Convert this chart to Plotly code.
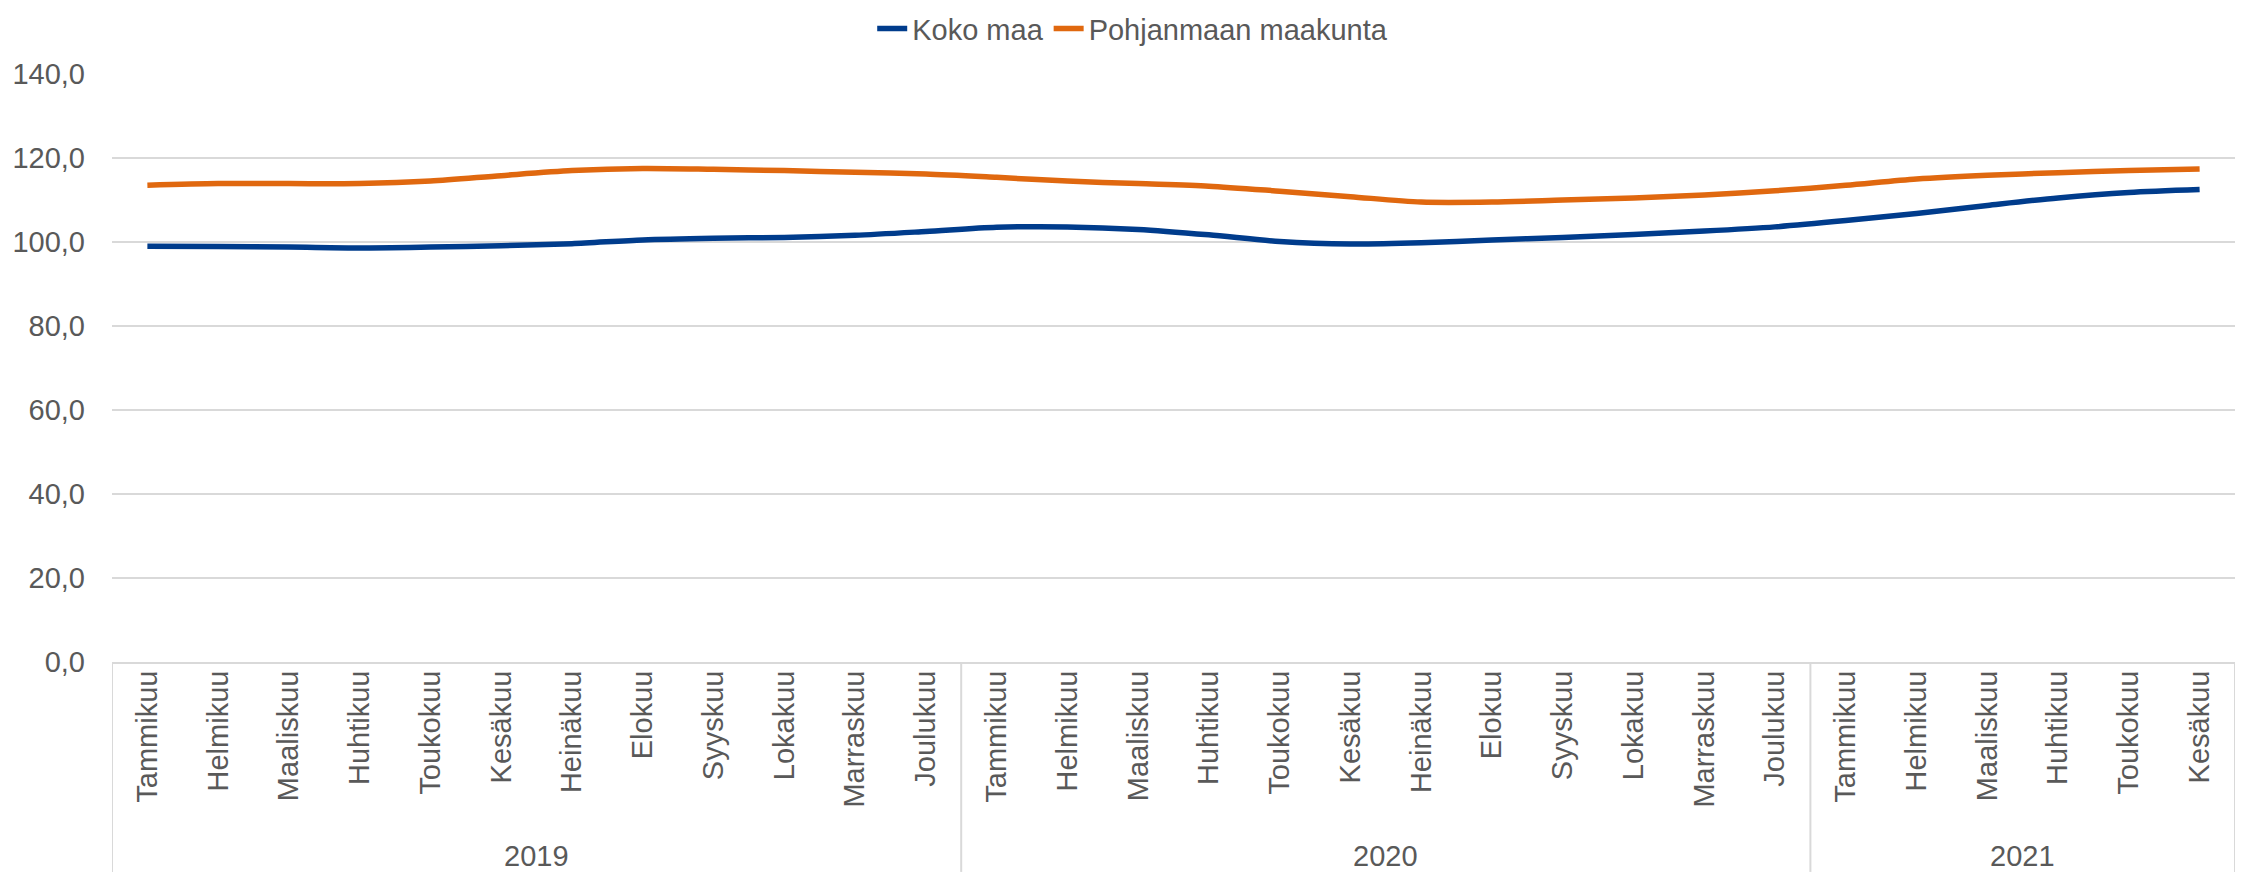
import plotly.graph_objects as go

months = ["Tammikuu", "Helmikuu", "Maaliskuu", "Huhtikuu", "Toukokuu", "Kesäkuu",
          "Heinäkuu", "Elokuu", "Syyskuu", "Lokakuu", "Marraskuu", "Joulukuu"]
years = ["2019", "2020", "2021"]
months_per_year = [12, 12, 6]

categories = []
for y, n in zip(years, months_per_year):
    categories += months[:n]

koko_maa = [99.0, 98.9, 98.8, 98.6, 98.8, 99.1, 99.6, 100.5, 100.9, 101.1, 101.6, 102.5,
            103.5, 103.6, 103.0, 101.7, 100.1, 99.5, 99.8, 100.5, 101.1, 101.8, 102.6, 103.6,
            105.1, 106.8, 108.7, 110.5, 111.8, 112.5]
pohjanmaa = [113.5, 113.9, 113.9, 113.9, 114.5, 115.8, 117.0, 117.5, 117.3, 117.0, 116.6, 116.2,
             115.4, 114.5, 113.9, 113.3, 112.1, 110.8, 109.5, 109.5, 110.0, 110.5, 111.2, 112.2,
             113.5, 115.0, 115.9, 116.5, 117.0, 117.4]

y_ticks = [0, 20, 40, 60, 80, 100, 120, 140]

FONT = "Liberation Sans, Arial, sans-serif"
GREY = "#595959"
GRID = "#D9D9D9"

xs = list(range(len(categories)))

fig = go.Figure()
fig.add_trace(go.Scatter(x=xs, y=koko_maa, name="Koko maa", mode="lines",
                         line=dict(color="#003C8C", width=5.5, shape="spline", smoothing=0.8)))
fig.add_trace(go.Scatter(x=xs, y=pohjanmaa, name="Pohjanmaan maakunta", mode="lines",
                         line=dict(color="#E0680F", width=5.5, shape="spline", smoothing=0.8)))

# group separators and year labels
shapes = []
annotations = []
start = 0
bounds = [-0.5]
for y, n in zip(years, months_per_year):
    end = start + n
    bounds.append(end - 0.5)
    annotations.append(dict(x=(start + end - 1) / 2, y=-0.33, xref="x", yref="paper",
                            text=y, showarrow=False, font=dict(size=29, color=GREY, family=FONT),
                            yanchor="middle"))
    start = end
for b in bounds:
    shapes.append(dict(type="line", xref="x", yref="paper", x0=b, x1=b, y0=0, y1=-0.357,
                       line=dict(color=GRID, width=2), layer="above"))

fig.update_layout(
    width=2236, height=864,
    margin=dict(l=104, r=9, t=66, b=210, autoexpand=False),
    paper_bgcolor="white", plot_bgcolor="white",
    separators=", ",
    font=dict(family=FONT, size=29, color=GREY),
    showlegend=True,
    legend=dict(orientation="h", xref="container", yref="container", x=0.503, xanchor="center",
                y=0.976, yanchor="middle",
                font=dict(size=29, color=GREY, family=FONT), bgcolor="rgba(0,0,0,0)"),
    shapes=shapes,
    annotations=annotations,
    xaxis=dict(range=[-0.5, len(categories) - 0.5], tickmode="array", tickvals=xs,
               ticktext=categories, tickangle=-90, showgrid=False, zeroline=False,
               showline=True, linecolor=GRID, linewidth=2, ticks="",
               tickfont=dict(size=29, color=GREY, family=FONT), ticklabelstandoff=-5),
    yaxis=dict(range=[0, 140], tickmode="array", tickvals=y_ticks, tickformat=".1f",
               showgrid=True, gridcolor=GRID, gridwidth=2, zeroline=False, showline=False,
               ticks="", tickfont=dict(size=29, color=GREY, family=FONT), ticklabelstandoff=26),
)

fig.write_html("out.html")
